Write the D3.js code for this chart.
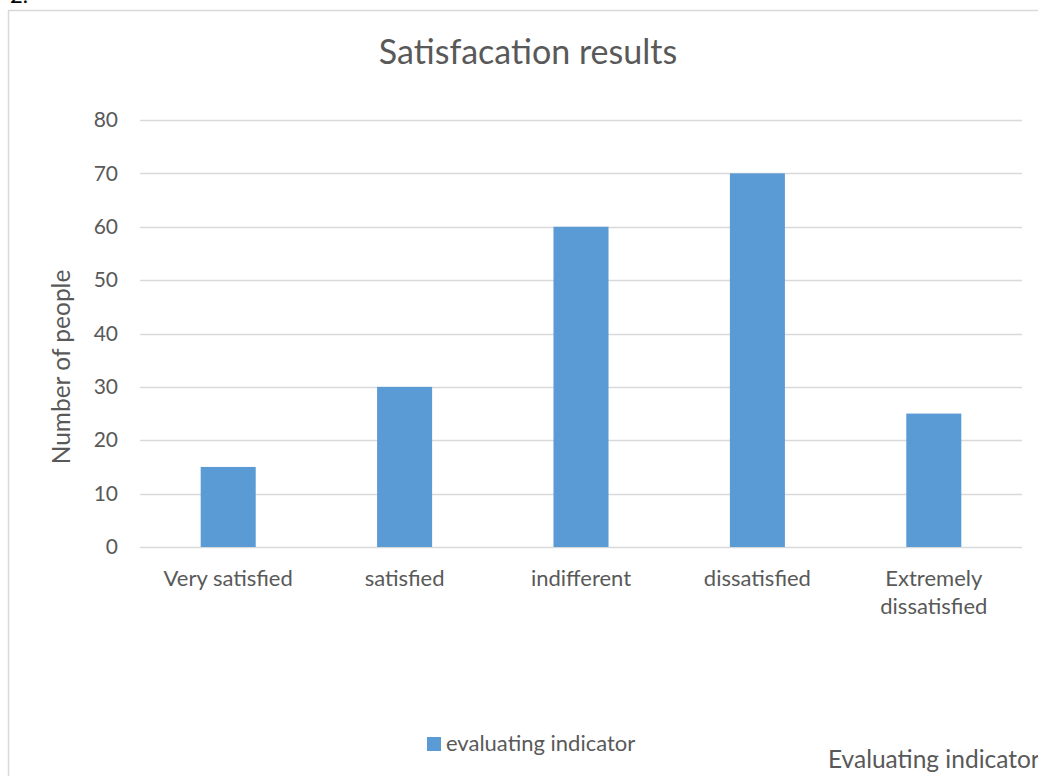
<!DOCTYPE html>
<html>
<head>
<meta charset="utf-8">
<script src="https://cdn.jsdelivr.net/npm/d3@7"></script>
<style>
  body { margin: 0; background: #fff; }
  text { font-family: Lato, "Open Sans", sans-serif; fill: #595959; }
</style>
</head>
<body>
<div id="chart"></div>
<script>
// data
const categories = ["Very satisfied", "satisfied", "indifferent", "dissatisfied", "Extremely dissatisfied"]
const values = [15, 30, 60, 70, 25]
const yTicks = [0, 10, 20, 30, 40, 50, 60, 70, 80]
const seriesName = "evaluating indicator"

const W = 1038, H = 776
const svg = d3.select("#chart").append("svg")
    .attr("width", W)
    .attr("height", H)

// chart frame
svg.append("rect")
    .attr("x", 8.5).attr("y", 10.5)
    .attr("width", 1100).attr("height", 900)
    .attr("fill", "none")
    .attr("stroke", "#d9d9d9")
    .attr("stroke-width", 1.5)

svg.append("text")
    .attr("x", 10).attr("y", 3)
    .style("font-size", "22px")
    .style("fill", "#000")
    .text("2.")

let x = d3.scaleBand()
    .domain(categories)
    .range([140, 1022])
    .paddingInner(0.688)
    .paddingOuter(0.344)

let y = d3.scaleLinear()
    .domain([0, 80])
    .range([547, 120])

// gridlines
svg.append("g")
    .selectAll("line")
    .data(yTicks)
    .join("line")
    .attr("x1", 140).attr("x2", 1022)
    .attr("y1", d => Math.round(y(d)) + 0.5)
    .attr("y2", d => Math.round(y(d)) + 0.5)
    .style("stroke", "#d9d9d9")
    .style("stroke-width", 1.3)

// y tick labels
let yAxis = svg.append("g")
    .attr("transform", "translate(118,0)")
    .call(d3.axisLeft(y).tickValues(yTicks).tickSize(0).tickPadding(0))
yAxis.select(".domain").remove()
yAxis.selectAll("text")
    .style("font-size", "21px")
    .style("fill", "#595959")
    .attr("font-family", null)

// bars
svg.append("g")
    .selectAll("rect")
    .data(values)
    .join("rect")
    .attr("x", (d, i) => x(categories[i]))
    .attr("width", x.bandwidth())
    .attr("y", d => y(d))
    .attr("height", d => y(0) - y(d))
    .attr("fill", "#5b9bd5")

// category labels
let xl = svg.append("g")
    .selectAll("text")
    .data(categories)
    .join("text")
    .attr("x", d => x(d) + x.bandwidth() / 2)
    .attr("y", 586)
    .attr("text-anchor", "middle")
    .style("font-size", "22px")
xl.each(function(d) {
    let t = d3.select(this)
    let w = d.split(" ")
    if (d === "Extremely dissatisfied") {
        t.append("tspan").attr("x", x(d) + x.bandwidth() / 2).text(w[0])
        t.append("tspan").attr("x", x(d) + x.bandwidth() / 2).attr("dy", 28).text(w[1])
    } else {
        t.text(d)
    }
})

// title
svg.append("text")
    .attr("x", 528).attr("y", 64)
    .attr("text-anchor", "middle")
    .style("font-size", "34px")
    .text("Satisfacation results")

// y axis title
svg.append("text")
    .attr("transform", "translate(70,367) rotate(-90)")
    .attr("text-anchor", "middle")
    .style("font-size", "24.5px")
    .text("Number of people")

// legend
svg.append("rect")
    .attr("x", 427).attr("y", 737)
    .attr("width", 14).attr("height", 14)
    .attr("fill", "#5b9bd5")
svg.append("text")
    .attr("x", 446).attr("y", 751)
    .style("font-size", "22px")
    .text(seriesName)

svg.append("text")
    .attr("x", 828).attr("y", 768)
    .style("font-size", "24.5px")
    .text("Evaluating indicator")
</script>
</body>
</html>
